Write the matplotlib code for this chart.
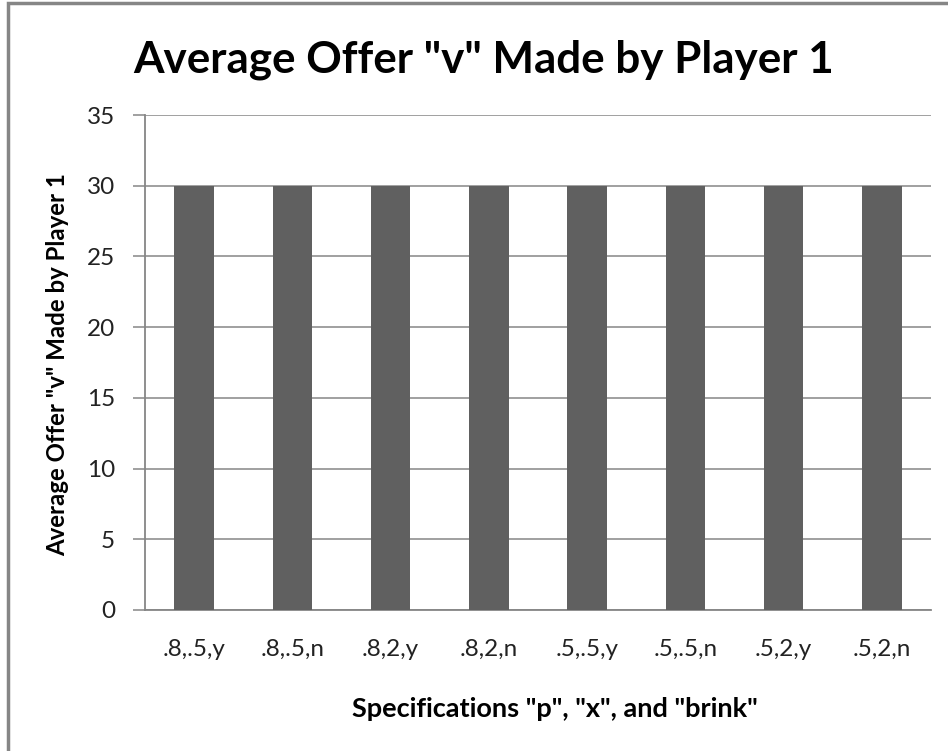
import numpy as np
import matplotlib.pyplot as plt
from matplotlib.patches import Rectangle

categories = ['.8,.5,y', '.8,.5,n', '.8,2,y', '.8,2,n',
              '.5,.5,y', '.5,.5,n', '.5,2,y', '.5,2,n']
values = [30, 30, 30, 30, 30, 30, 30, 30]
yticks = [0, 5, 10, 15, 20, 25, 30, 35]

plt.rcParams['font.family'] = ['Lato', 'DejaVu Sans']

fig = plt.figure(figsize=(9.48, 7.51), dpi=100)
fig.patch.set_facecolor('white')

# outer chart frame (cut off at right and bottom)
fig.patches.append(Rectangle((8 / 948, -0.05), 1.1, (751 - 3) / 751 + 0.05,
                             transform=fig.transFigure, fill=False,
                             ec='#868686', lw=2.5))

ax = fig.add_axes([145 / 948, 141 / 751, 786 / 948, 495 / 751])
x = np.arange(len(categories))
ax.bar(x, values, width=0.4, color='#606060', zorder=3)

ax.set_xlim(-0.5, len(categories) - 0.5)
ax.set_ylim(0, 35)
ax.set_yticks(yticks)
ax.set_xticks(x)
ax.set_xticklabels(categories)
ax.yaxis.grid(True, color='#868686', lw=1.1, zorder=0)

for s in ['top', 'right']:
    ax.spines[s].set_visible(False)
for s in ['left', 'bottom']:
    ax.spines[s].set_color('#868686')
    ax.spines[s].set_linewidth(1.3)

ax.tick_params(axis='y', length=9, color='#868686', width=1.1,
               labelsize=17.5, pad=12.5, labelcolor='#222222')
ax.tick_params(axis='x', length=0, labelsize=17.5, pad=21, labelcolor='#222222')

fig.text(58 / 948, 1 - 365 / 751, 'Average Offer "v" Made by Player 1',
         rotation=90, ha='center', va='center', fontsize=17.3, fontweight='bold')
fig.text(555 / 948, 1 - 709 / 751, 'Specifications "p", "x", and "brink"',
         ha='center', va='center', fontsize=19.5, fontweight='bold')

fig.text(484 / 948, 1 - 60 / 751, 'Average Offer "v" Made by Player 1',
         ha='center', va='center', fontsize=31.7, fontweight='bold')

fig.savefig('out.png', dpi=100)
